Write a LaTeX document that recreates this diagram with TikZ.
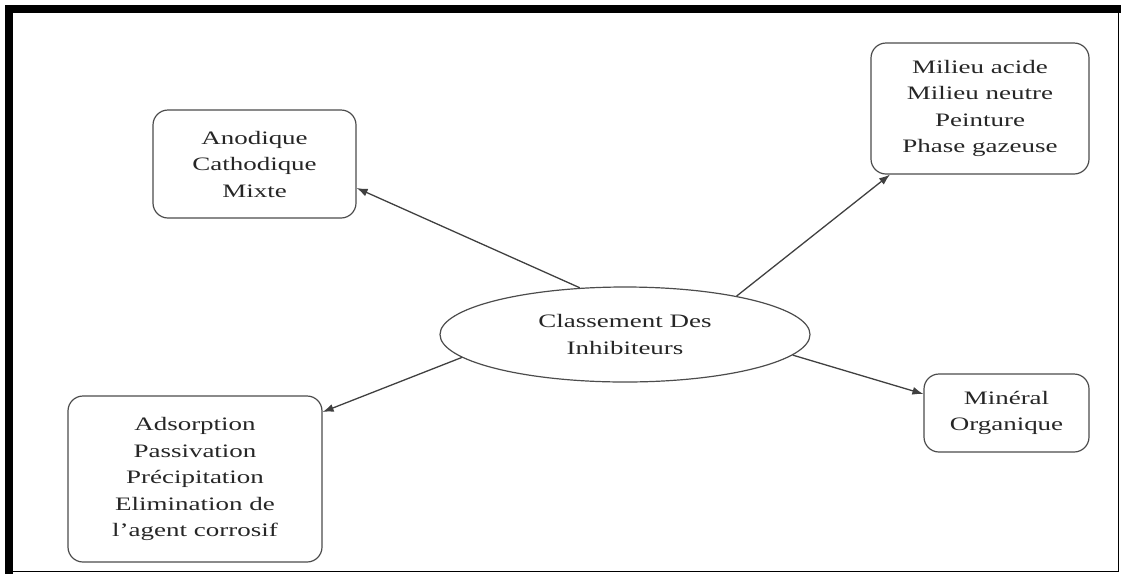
\documentclass[tikz,border=0pt]{standalone}
\usepackage{fontspec}
\setmainfont{Liberation Serif}[FakeStretch=1.42]
\usetikzlibrary{shapes.geometric}
\usetikzlibrary{arrows.meta}

\begin{document}
\begin{tikzpicture}[x=1pt, y=-1pt,
  box/.style={draw=black!70, line width=1.2pt, rounded corners=15pt, align=center,
    text=black!85, font=\fontsize{19}{26.5}\selectfont, inner sep=0pt},
  link/.style={draw=black!75, line width=1.3pt, -{Latex[length=11pt, width=8pt]}}]
  \useasboundingbox (0,0) rectangle (1121,574);

  % frame
  \draw[line width=1pt] (9,9) rectangle (1118,571);
  \draw[line width=8pt] (5,9) -- (1121,9);
  \draw[line width=8pt] (9,5) -- (9,574);

  \node[box, ellipse, rounded corners=0pt, minimum width=370pt, minimum height=95pt] (classes) at (625,334.5) {Classement Des\\Inhibiteurs};

  \node[box, minimum width=203pt, minimum height=108pt] (mechanism) at (254.5,164) {Anodique\\Cathodique\\Mixte};
  \node[box, minimum width=218pt, minimum height=131pt] (medium) at (980,108.5) {Milieu acide\\Milieu neutre\\Peinture\\Phase gazeuse};
  \node[box, minimum width=254pt, minimum height=166pt] (action) at (195,479) {Adsorption\\Passivation\\Précipitation\\Elimination de\\l’agent corrosif};
  \node[box, minimum width=165pt, minimum height=78pt] (nature) at (1006.5,413) {Minéral\\Organique};

  % arrows
  \draw[link] (classes.134) -- ([yshift=-24pt]mechanism.east);
  \draw[link] (classes.19) -- ([xshift=-90pt]medium.south);
  \draw[link] (classes.188) -- ([yshift=67pt]action.east);
  \draw[link] (classes.353) -- ([yshift=19pt]nature.west);
\end{tikzpicture}
\end{document}
